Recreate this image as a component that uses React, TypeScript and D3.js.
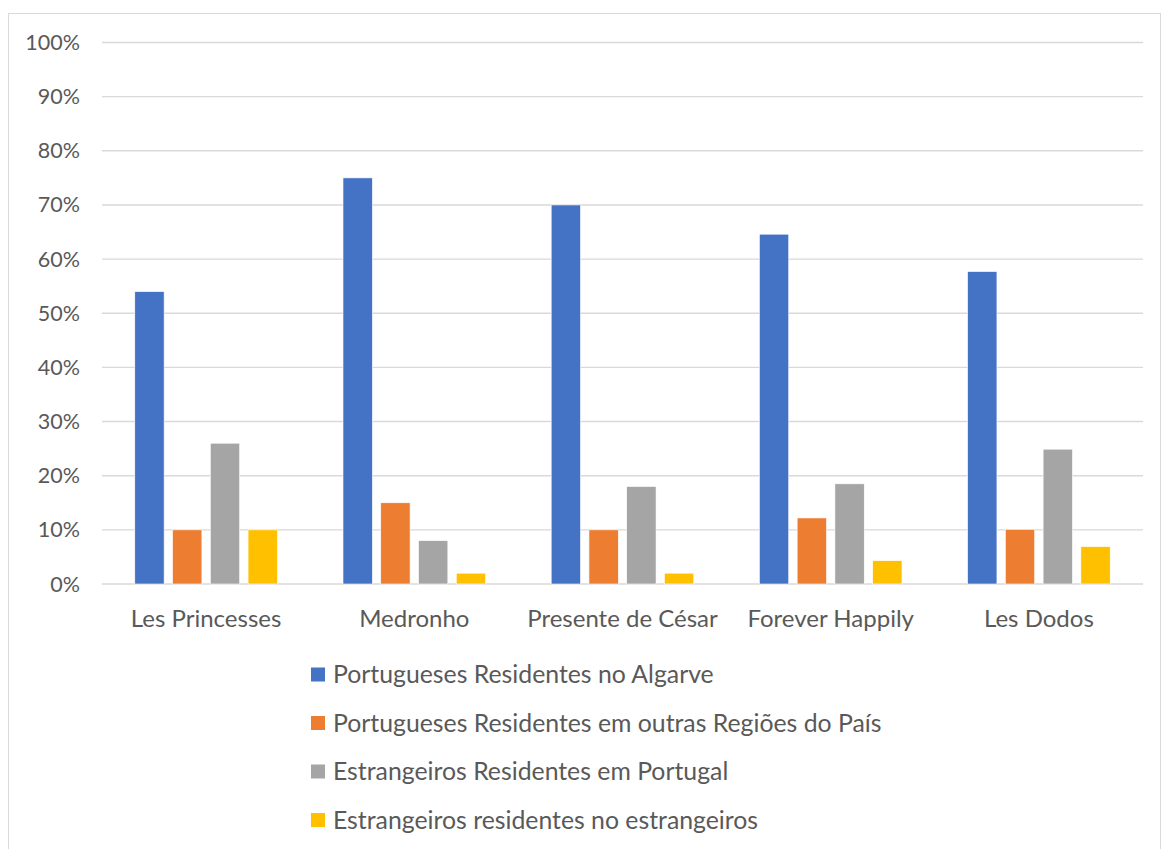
import React from "react";
import * as d3 from "d3";

const categories = ["Les Princesses", "Medronho", "Presente de César", "Forever Happily", "Les Dodos"];
const seriesNames = [
  "Portugueses Residentes no Algarve",
  "Portugueses Residentes em outras Regiões do País",
  "Estrangeiros Residentes em Portugal",
  "Estrangeiros residentes no estrangeiros",
];
const algarve = [54, 75, 70, 64.6, 57.7];
const outrasRegioes = [10, 15, 10, 12.2, 10.1];
const estrangeirosPortugal = [26, 8, 18, 18.5, 24.9];
const estrangeirosEstrangeiro = [10, 2, 2, 4.3, 6.9];
const yTicks = [0, 10, 20, 30, 40, 50, 60, 70, 80, 90, 100];
const colors = ["#4472C4", "#ED7D31", "#A5A5A5", "#FFC000"];

const seriesValues = [algarve, outrasRegioes, estrangeirosPortugal, estrangeirosEstrangeiro];

export default function App() {
  const W = 1162, H = 849;
  const plotL = 102, plotR = 1143, plotT = 42.5, plotB = 584;
  const font = "Lato, 'Open Sans', sans-serif";
  const textColor = "#595959";

  const y = d3.scaleLinear().domain([0, 100]).range([plotB, plotT]);
  const x0 = d3.scaleBand<string>().domain(categories).range([plotL, plotR]).padding(0);
  const groupW = x0.bandwidth() * 0.685;
  const x1 = d3.scaleBand<number>().domain([0, 1, 2, 3]).range([0, groupW]).paddingInner(0.223).paddingOuter(0);

  return (
    <svg width={W} height={H} style={{ position: "absolute", left: 0, top: 0 }}>
      <rect x={0} y={0} width={W} height={H} fill="#fff" />
      <rect x={8.5} y={13.5} width={1152} height={850} fill="#fff" stroke="#d9d9d9" strokeWidth={1} />
      {yTicks.map((t) => (
        <g key={t}>
          <line x1={plotL} x2={plotR} y1={y(t)} y2={y(t)} stroke="#d9d9d9" strokeWidth={1.4} />
          <text x={80} y={y(t)} dy="0.35em" textAnchor="end" fontFamily={font} fontSize={21.5} fill={textColor}>
            {t}%
          </text>
        </g>
      ))}
      {categories.map((c, ci) => {
        const gx = (x0(c) as number) + (x0.bandwidth() - groupW) / 2;
        return (
          <g key={c}>
            {seriesValues.map((vals, si) => (
              <rect
                key={si}
                x={gx + (x1(si) as number)}
                y={y(vals[ci])}
                width={x1.bandwidth()}
                height={plotB - y(vals[ci])}
                fill={colors[si]}
                stroke="#ffffff"
                strokeWidth={0.6}
              />
            ))}
            <text
              x={(x0(c) as number) + x0.bandwidth() / 2}
              y={619}
              dy="0.35em"
              textAnchor="middle"
              fontFamily={font}
              fontSize={24}
              fill={textColor}
            >
              {c}
            </text>
          </g>
        );
      })}
      {seriesNames.map((n, i) => {
        const cy = 674.5 + i * 48.5;
        return (
          <g key={n}>
            <rect x={311} y={cy - 7} width={14} height={14} fill={colors[i]} />
            <text x={333} y={cy} dy="0.35em" fontFamily={font} fontSize={24.8} fill={textColor}>
              {n}
            </text>
          </g>
        );
      })}
    </svg>
  );
}
